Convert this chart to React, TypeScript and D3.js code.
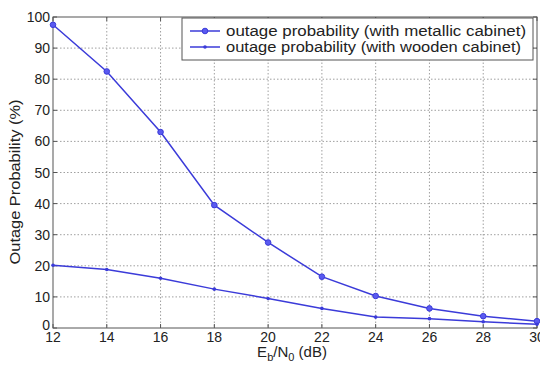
import React from 'react';
import * as d3 from 'd3';

const snrDb = [12, 14, 16, 18, 20, 22, 24, 26, 28, 30];
const metallic = [97.5, 82.5, 63, 39.5, 27.5, 16.5, 10.3, 6.3, 3.8, 2.2];
const wooden = [20.2, 18.8, 16, 12.5, 9.5, 6.3, 3.5, 3, 2, 1.2];
const yTicks = [0, 10, 20, 30, 40, 50, 60, 70, 80, 90, 100];
const legendLabels = [
  'outage probability (with metallic cabinet)',
  'outage probability (with wooden cabinet)',
];
const legendWidths = [300, 295];

const W = 540;
const H = 365;
const margin = { top: 17, right: 3, bottom: 37, left: 53 };
const lineColor = '#3b3bd9';
const font = 'Liberation Sans, Arial, sans-serif';

export default function App() {
  const pw = W - margin.left - margin.right;
  const ph = H - margin.top - margin.bottom;
  const x = d3.scaleLinear().domain([12, 30]).range([0, pw]);
  const y = d3.scaleLinear().domain([0, 100]).range([ph, 0]);
  const line = d3
    .line<number>()
    .x((_, i) => x(snrDb[i]))
    .y((d) => y(d));

  return (
    <svg
      width={W}
      height={H}
      style={{ position: 'absolute', left: 0, top: 0, background: '#fff' }}
      fontFamily={font}
    >
      <g transform={`translate(${margin.left},${margin.top})`}>
        {/* grid */}
        {snrDb.slice(1, -1).map((t) => (
          <line key={'gx' + t} x1={x(t)} x2={x(t)} y1={0} y2={ph} stroke="#888" strokeWidth={0.8} strokeDasharray="1.5,2" />
        ))}
        {yTicks.slice(1, -1).map((t) => (
          <line key={'gy' + t} x1={0} x2={pw} y1={y(t)} y2={y(t)} stroke="#888" strokeWidth={0.8} strokeDasharray="1.5,2" />
        ))}
        {/* ticks */}
        {snrDb.map((t) => (
          <g key={'tx' + t}>
            <line x1={x(t)} x2={x(t)} y1={ph} y2={ph - 4} stroke="#555" />
            <line x1={x(t)} x2={x(t)} y1={0} y2={4} stroke="#555" />
            <text x={x(t)} y={ph + 14} textAnchor="middle" fontSize={14} fill="#222">{t}</text>
          </g>
        ))}
        {yTicks.map((t) => (
          <g key={'ty' + t}>
            <line x1={0} x2={4} y1={y(t)} y2={y(t)} stroke="#555" />
            <line x1={pw} x2={pw - 4} y1={y(t)} y2={y(t)} stroke="#555" />
            <text x={-3} y={y(t) + (t === 0 ? 2 : 5)} textAnchor="end" fontSize={14} fill="#222">{t}</text>
          </g>
        ))}
        <rect x={0} y={0} width={pw} height={ph} fill="none" stroke="#555" strokeWidth={1} />
        {/* series */}
        <path d={line(metallic) || ''} fill="none" stroke={lineColor} strokeWidth={1.5} />
        <path d={line(wooden) || ''} fill="none" stroke={lineColor} strokeWidth={1.5} />
        {metallic.map((v, i) => (
          <circle key={'m' + i} cx={x(snrDb[i])} cy={y(v)} r={2.8} fill="#5a5af0" stroke={lineColor} strokeWidth={1} />
        ))}
        {wooden.map((v, i) => (
          <circle key={'w' + i} cx={x(snrDb[i])} cy={y(v)} r={1.8} fill={lineColor} />
        ))}
        {/* legend */}
        <g transform={`translate(${182 - margin.left},${18 - margin.top})`}>
          <rect x={0} y={0} width={351} height={42} fill="#fff" stroke="#555" strokeWidth={1} />
          {legendLabels.map((lbl, i) => (
            <g key={lbl} transform={`translate(0,${13 + i * 16})`}>
              <line x1={8} x2={38} y1={0} y2={0} stroke={lineColor} strokeWidth={1.5} />
              {i === 0 ? (
                <circle cx={23} cy={0} r={2.8} fill="#5a5af0" stroke={lineColor} />
              ) : (
                <circle cx={23} cy={0} r={1.8} fill={lineColor} />
              )}
              <text
                x={44}
                y={5}
                fontSize={14}
                fill="#222"
                textLength={legendWidths[i]}
                lengthAdjust="spacingAndGlyphs"
              >
                {lbl}
              </text>
            </g>
          ))}
        </g>
      </g>
      {/* axis labels */}
      <text x={292} y={357} textAnchor="middle" fontSize={15} fill="#222">
        E<tspan fontSize={11} dy={4}>b</tspan>
        <tspan dy={-4}>/N</tspan>
        <tspan fontSize={11} dy={4}>0</tspan>
        <tspan dy={-4}> (dB)</tspan>
      </text>
      <text
        transform={`translate(20,182) rotate(-90)`}
        textAnchor="middle"
        fontSize={15}
        fill="#222"
        textLength={165}
        lengthAdjust="spacingAndGlyphs"
      >
        Outage Probability (%)
      </text>
    </svg>
  );
}
